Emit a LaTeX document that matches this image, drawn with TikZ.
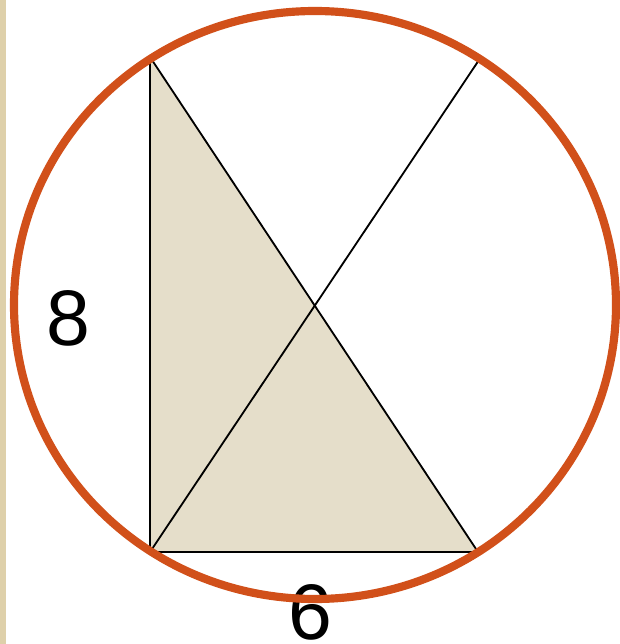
\documentclass[tikz,border=0pt]{standalone}
\usepackage{fontspec}
\setmainfont{Liberation Sans}
\usetikzlibrary{positioning,calc}
\definecolor{rim}{RGB}{209,80,26}
\definecolor{sand}{RGB}{229,222,202}
\definecolor{strip}{RGB}{222,208,170}

\begin{document}
\begin{tikzpicture}[x=0.025cm, y=-0.025cm, line join=round,
    leg/.style={draw=black, line width=1.3pt},
    side/.style={font=\fontsize{56}{60}\selectfont, inner sep=0pt}]
  \useasboundingbox (0,0) rectangle (619,644);
  \fill[white] (0,0) rectangle (619,644);
  \fill[strip] (0,0) rectangle (6,644);
  % right triangle with its hypotenuse on a diameter
  \coordinate (top) at (150,57);
  \coordinate (bl)  at (150,552);
  \coordinate (br)  at (478,552);
  \coordinate (tr)  at (481,57);
  \fill[sand] (top) -- (bl) -- (br) -- cycle;
  \draw[leg] (top) -- (bl) -- (br) -- cycle;
  \draw[leg] (bl) -- (tr);
  \node[side] (eight) at (68,318) {8};
  \node[side] (six)   at (310,612) {6};
  \draw[rim, line width=5.8pt] (315,305) ellipse [x radius=301, y radius=294];
\end{tikzpicture}
\end{document}
